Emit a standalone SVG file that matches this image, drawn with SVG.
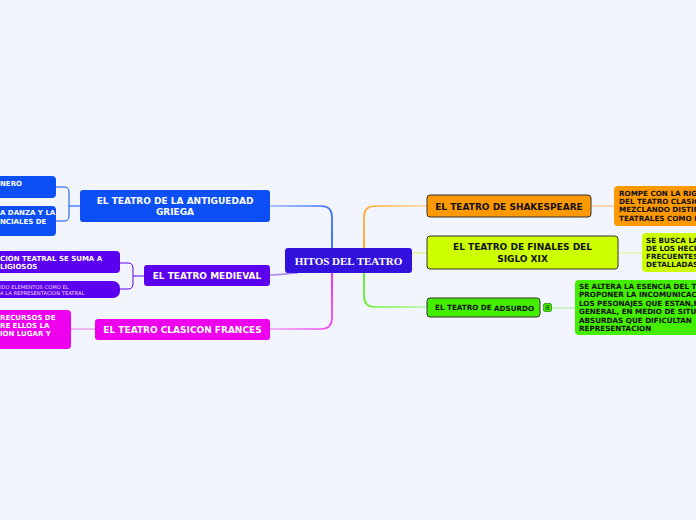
<svg xmlns="http://www.w3.org/2000/svg" width="696" height="520" viewBox="0 0 696 520">
<defs>
<linearGradient id="gBlue" gradientUnits="userSpaceOnUse" x1="270" y1="206" x2="332" y2="248"><stop offset="0" stop-color="#8fb0ff"/><stop offset="1" stop-color="#1150f5"/></linearGradient>
<linearGradient id="gMag" gradientUnits="userSpaceOnUse" x1="270" y1="329" x2="332" y2="273"><stop offset="0" stop-color="#f39af3"/><stop offset="1" stop-color="#ee00ee"/></linearGradient>
<linearGradient id="gOr" gradientUnits="userSpaceOnUse" x1="427" y1="206" x2="364" y2="248"><stop offset="0" stop-color="#ffd49a"/><stop offset="1" stop-color="#ff9900"/></linearGradient>
<linearGradient id="gGr" gradientUnits="userSpaceOnUse" x1="427" y1="307" x2="364" y2="273"><stop offset="0" stop-color="#b6f7a3"/><stop offset="1" stop-color="#44ee00"/></linearGradient>
</defs>
<style>
.t{font-family:"DejaVu Sans",Verdana,sans-serif;font-weight:bold;}
.w{fill:#ffffff;}
.k{fill:#111111;}
.c{text-anchor:middle;}
.bd{stroke:#333333;stroke-width:1;}
.cn{fill:none;stroke-width:1.6;}
</style>
<rect width="696" height="520" fill="#f2f5fd"/>

<g id="connectors">
<path class="cn" d="M270 206 H321 Q332 206 332 217 V248" stroke="url(#gBlue)"/>
<path class="cn" d="M270 275 C284 275 288 273 298 273" stroke="#a98cf5"/>
<path class="cn" d="M270 329 H321 Q332 329 332 318 V273" stroke="url(#gMag)"/>
<path class="cn" d="M427 206 H375 Q364 206 364 217 V248" stroke="url(#gOr)"/>
<path class="cn" d="M412 253 H427" stroke="#e3f5a0"/>
<path class="cn" d="M364 273 V296 Q364 307 375 307 H427" stroke="url(#gGr)"/>
<path fill="none" stroke="#0b4ff5" stroke-width="1" d="M80 206 H69 M56 187 H64 Q69 187 69 192 V216 Q69 221 64 221 H56"/>
<path fill="none" stroke="#5c00f0" stroke-width="1" d="M144 276 H133 M120 263 H128 Q133 263 133 268 V284 Q133 289 128 289 H120"/>
<path fill="none" stroke="#f08ef0" stroke-width="1.2" d="M71 329 H95"/>
<path fill="none" stroke="#ffc27a" stroke-width="1.2" d="M591 206 H614"/>
<path fill="none" stroke="#e6f7a0" stroke-width="1.2" d="M618 253 H642"/>
<path fill="none" stroke="#b6f0a6" stroke-width="1.2" d="M552 308 H575"/>
</g>

<g id="center">
<rect x="285" y="248" width="127" height="25" rx="3" fill="#3311dd"/>
<text x="348.5" y="264.5" class="c w" font-family="'Liberation Serif',serif" font-weight="bold" font-size="11">HITOS DEL TEATRO</text>
</g>

<g id="griega">
<rect x="80" y="190" width="190" height="32" rx="3" fill="#0b4ff5"/>
<text class="t w c" font-size="9" x="175" y="204">EL TEATRO DE LA ANTIGUEDAD</text>
<text class="t w c" font-size="9" x="175" y="215">GRIEGA</text>
</g>
<g id="griega-1">
<rect x="-10" y="176" width="66" height="22" rx="4" fill="#0b4ff5"/>
<text class="t w" font-size="7" x="0" y="186">NERO</text>
</g>
<g id="griega-2">
<rect x="-10" y="206" width="66" height="30" rx="4" fill="#0b4ff5"/>
<text class="t w" font-size="7" x="0" y="215">A DANZA Y LA</text>
<text class="t w" font-size="7" x="0" y="224">NCIALES DE</text>
</g>

<g id="medieval">
<rect x="144" y="265" width="126" height="21" rx="3" fill="#5c00f0"/>
<text class="t w c" font-size="9" x="207" y="279">EL TEATRO MEDIEVAL</text>
</g>
<g id="medieval-1">
<rect x="-10" y="251" width="130" height="22" rx="4" fill="#5c00f0"/>
<text class="t w" font-size="7" x="0" y="261">CION TEATRAL SE SUMA A</text>
<text class="t w" font-size="7" x="0" y="269">LIGIOSOS</text>
</g>
<g id="medieval-2">
<rect x="-10" y="281" width="130" height="17" rx="7" fill="#5c00f0"/>
<text font-family="'DejaVu Sans',Verdana,sans-serif" font-size="5.2" fill="#f0d8ff" x="0" y="288.5">IDO ELEMENTOS COMO EL</text>
<text font-family="'DejaVu Sans',Verdana,sans-serif" font-size="5.2" fill="#f0d8ff" x="0" y="294.5">A LA REPRESENTACION TEATRAL</text>
</g>

<g id="clasico">
<rect x="95" y="319" width="175" height="21" rx="3" fill="#ee00ee"/>
<text class="t w c" font-size="9" x="182.5" y="333">EL TEATRO CLASICON FRANCES</text>
</g>
<g id="clasico-1">
<rect x="-10" y="310" width="81" height="39" rx="4" fill="#ee00ee"/>
<text class="t w" font-size="7" x="0" y="320">RECURSOS DE</text>
<text class="t w" font-size="7" x="0" y="328">RE ELLOS LA</text>
<text class="t w" font-size="7" x="0" y="336">ION LUGAR Y</text>
</g>

<g id="shakespeare">
<rect x="427" y="195" width="164" height="22" rx="3" fill="#ff9900" class="bd"/>
<text class="t k c" font-size="9" x="509" y="209.5">EL TEATRO DE SHAKESPEARE</text>
</g>
<g id="shakespeare-1">
<rect x="614" y="186" width="100" height="40" rx="4" fill="#ff9900"/>
<text class="t k" font-size="7.2" x="619" y="196">ROMPE CON LA RIG</text>
<text class="t k" font-size="7.2" x="619" y="204">DEL TEATRO CLASIC</text>
<text class="t k" font-size="7.2" x="619" y="212">MEZCLANDO DISTIN</text>
<text class="t k" font-size="7.2" x="619" y="221">TEATRALES COMO L</text>
</g>

<g id="finales">
<rect x="427" y="236" width="191" height="33" rx="3" fill="#ccff00" class="bd"/>
<text class="t k c" font-size="9" x="522.5" y="250">EL TEATRO DE FINALES DEL</text>
<text class="t k c" font-size="9" x="522.5" y="262">SIGLO XIX</text>
</g>
<g id="finales-1">
<rect x="642" y="233" width="70" height="39" rx="4" fill="#ccff00"/>
<text class="t k" font-size="7.2" x="646" y="243">SE BUSCA LA</text>
<text class="t k" font-size="7.2" x="646" y="251">DE LOS HECH</text>
<text class="t k" font-size="7.2" x="646" y="259">FRECUENTES</text>
<text class="t k" font-size="7.2" x="646" y="267">DETALLADAS</text>
</g>

<g id="absurdo">
<rect x="427" y="298" width="113" height="19" rx="3" fill="#44ee00" class="bd"/>
<text class="t k" font-size="7.2" x="435" y="310">EL TEATRO DE</text>
<text class="t k" font-size="7.2" x="494" y="311">ADSURDO</text>
<rect x="543.5" y="303.5" width="8" height="8" rx="1.5" fill="#44ee00" stroke="#2f8f10" stroke-width="0.8"/>
<path d="M545.5 305.8 H549.5 M545.5 307.5 H549.5 M545.5 309.2 H549.5" stroke="#114400" stroke-width="0.8"/>
</g>
<g id="absurdo-1">
<rect x="575" y="280" width="140" height="55" rx="4" fill="#44ee00"/>
<text class="t k" font-size="7.2" x="579" y="289">SE ALTERA LA ESENCIA DEL T</text>
<text class="t k" font-size="7.2" x="579" y="297">PROPONER LA INCOMUNICAC</text>
<text class="t k" font-size="7.2" x="579" y="306">LOS PESONAJES QUE ESTAN,P</text>
<text class="t k" font-size="7.2" x="579" y="314">GENERAL, EN MEDIO DE SITU</text>
<text class="t k" font-size="7.2" x="579" y="323">ABSURDAS QUE DIFICULTAN</text>
<text class="t k" font-size="7.2" x="579" y="331">REPRESENTACION</text>
</g>
</svg>
